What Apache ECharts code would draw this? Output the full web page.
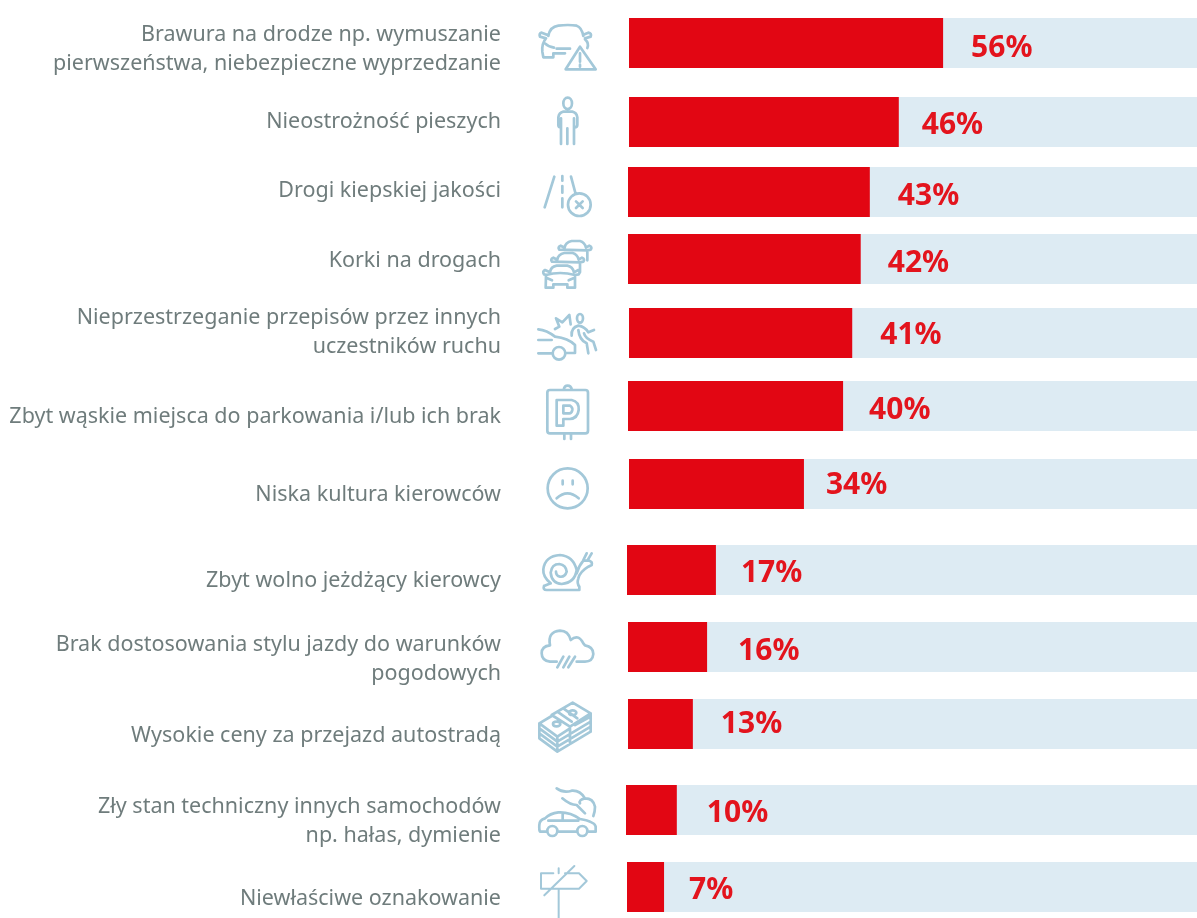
<!DOCTYPE html>
<html>
  <head>
    <meta charset="utf-8">
    <title>Przyczyny</title>
    <script src="https://cdn.jsdelivr.net/npm/echarts@6.0.0/dist/echarts.min.js"></script>
    <style>
      body { margin: 0px; background: #fff; }
      #chart { width: 1197px; height: 918px; }
    </style>
  </head>
  <body>
    <div id="chart"></div>
    <script type="text/javascript">
      const categories = [
        'Brawura na drodze np. wymuszanie\npierwszeństwa, niebezpieczne wyprzedzanie',
        'Nieostrożność pieszych',
        'Drogi kiepskiej jakości',
        'Korki na drogach',
        'Nieprzestrzeganie przepisów przez innych\nuczestników ruchu',
        'Zbyt wąskie miejsca do parkowania i/lub ich brak',
        'Niska kultura kierowców',
        'Zbyt wolno jeżdżący kierowcy',
        'Brak dostosowania stylu jazdy do warunków\npogodowych',
        'Wysokie ceny za przejazd autostradą',
        'Zły stan techniczny innych samochodów\nnp. hałas, dymienie',
        'Niewłaściwe oznakowanie'
      ]
      // printed percentages
      const valueLabels = [56, 46, 43, 42, 41, 40, 34, 17, 16, 13, 10, 7]
      // drawn bar length, % of the pale track (the picture's bars differ a bit from the printed number)
      const barLengths = [55.3, 47.5, 42.5, 40.9, 39.3, 37.8, 30.8, 15.6, 13.9, 11.4, 8.9, 6.5]

      // row layout, the rows in the picture are not evenly spaced
      const rowTop = [18, 97, 167, 234, 308, 381, 459, 545, 622, 699, 785, 862]
      const rowLeft = [629, 629, 628, 628, 629, 628, 629, 627, 628, 628, 626, 627]
      const nameShift = [6, 0, -1, 2, -1, 11, 11, 11, 12, 12, 11, 12]
      const valueShift = [5, 3, 4, 4, 2, 4, 1, 3, 4, 0, 3, 3]
      const valueGap = [28, 23, 28, 27, 28, 26, 22, 25, 31, 28, 30, 25]

      const RED = '#e20613'
      const TRACK = '#ddebf3'
      const ICON = '#a3c8d9'
      const TEXT = '#6f7c7c'
      const FONT = '"Noto Sans", sans-serif'

      // icon helpers, shapes are traced in the 3x zoom coords
      function ell(cx, cy, rx, ry = rx) {
        const k = 0.5523
        return `M${cx - rx},${cy} C${cx - rx},${cy - k * ry} ${cx - k * rx},${cy - ry} ${cx},${cy - ry} ` +
          `C${cx + k * rx},${cy - ry} ${cx + rx},${cy - k * ry} ${cx + rx},${cy} ` +
          `C${cx + rx},${cy + k * ry} ${cx + k * rx},${cy + ry} ${cx},${cy + ry} ` +
          `C${cx - k * rx},${cy + ry} ${cx - rx},${cy + k * ry} ${cx - rx},${cy} `
      }
      function place(d, ox, oy) {
        return d.replace(/(-?[\d.]+),(-?[\d.]+)/g, (m, x, y) => `${(ox + x / 3).toFixed(2)},${(oy + y / 3).toFixed(2)}`)
      }
      function stackedCar(dx, dy) {
        return `M${104 + dx},${38 + dy} Q${106 + dx},${22 + dy} ${125 + dx},${18 + dy} L${150 + dx},${18 + dy} Q${164 + dx},${22 + dy} ${168 + dx},${38 + dy} ` +
          `M${104 + dx},${38 + dy} L${92 + dx},${32 + dy} Q${82 + dx},${36 + dy} ${88 + dx},${44 + dy} L${172 + dx},${46 + dy} ` +
          `M${168 + dx},${38 + dy} L${178 + dx},${32 + dy} Q${188 + dx},${36 + dy} ${182 + dx},${44 + dy} L${172 + dx},${46 + dy} L${172 + dx},${76 + dy} `
      }

      const icons = [
        place('M55,78 Q60,50 85,47 Q115,43 140,47 Q155,52 160,78 M55,76 L35,68 Q26,70 30,80 L48,85 M160,74 L175,68 Q186,70 182,80 L165,85 ' +
          'M48,85 Q35,100 37,125 L40,142 L70,142 L70,130 L105,130 M45,100 Q55,110 72,113 M80,116 L120,116 M165,88 Q178,100 172,114 ' +
          'M150,110 L197,178 L107,178 Z M150,130 L150,155 M150,164 L150,170', 530, 10),
        place(ell(113, 280, 13, 17) + 'M85,345 L85,322 Q87,308 100,305 L127,305 Q140,308 142,322 L142,345 Q142,352 134,352 ' +
          'M85,345 Q85,352 92,352 M93,325 L93,402 M112,355 L112,402 M132,325 L132,402', 530, 10),
        place('M73,500 L44,592 M97,498 L97,512 M97,528 L97,548 M97,565 L97,592 M123,500 L137,552 ' + ell(148, 584, 34) +
          'M138,574 L158,594 M158,574 L138,594', 530, 10),
        place(stackedCar(0, 0) + stackedCar(-22, 36) + 'M60,112 Q62,95 80,92 L112,92 Q128,95 132,112 M60,112 L45,105 Q36,110 42,118 L50,120 ' +
          'M132,112 L145,105 Q152,110 146,118 L135,120 M48,120 L47,158 L70,158 L70,148 L112,148 L112,158 L135,158 L135,120 Q90,108 48,120 M52,130 L66,136 M130,130 L116,136', 530, 235),
        place('M25,283 Q50,285 75,305 Q115,310 135,330 L135,354 L108,354 ' + ell(87, 355, 19) + 'M66,355 L25,355 M25,315 L65,315 ' +
          'M75,282 L88,275 L78,250 L97,262 L118,240 L122,268 ' + ell(150, 250, 9, 13) +
          'M125,302 Q123,278 145,272 Q165,275 175,292 L192,285 M145,285 Q148,315 170,325 L175,355 M162,295 Q165,310 190,320 L198,345', 530, 235),
        place('M60,465 L166,465 Q174,465 174,473 L174,587 Q174,595 166,595 L60,595 Q52,595 52,587 L52,473 Q52,465 60,465 Z ' +
          'M101,465 Q103,452 113,452 Q123,452 126,465 M103,595 L103,612 M123,595 L123,612 ' +
          'M80,495 L125,495 Q148,500 146,525 Q143,550 120,552 L100,552 L100,572 L80,572 Z M100,512 L120,512 Q128,517 127,525 Q125,535 118,535 L100,535 Z', 530, 235),
        place(ell(113, 760, 60) + 'M98,737 L98,748 M128,737 L128,748 M80,790 Q112,760 146,790', 530, 235),
        place('M62,130 Q38,110 40,88 Q45,48 90,45 Q130,48 140,90 Q135,128 95,132 Q65,130 62,98 Q65,72 88,72 Q108,75 110,95 Q105,112 90,110 Q78,107 78,95 ' +
          'M42,138 Q38,150 50,150 L148,150 L148,140 Q140,130 145,115 Q150,95 175,80 L185,75 Q188,65 178,62 L160,62 Q145,80 140,100 M42,138 L62,130 M160,60 L170,40 M172,62 L185,40', 530, 540),
        place('M80,365 L60,365 Q35,362 35,340 Q35,318 60,316 Q52,275 90,272 Q115,272 122,300 Q145,280 160,310 L165,316 Q190,320 190,342 Q188,365 165,365 L140,365 ' +
          'M100,350 L82,382 M118,350 L100,382 M135,350 L115,382', 530, 540),
        place('M65,525 L128,488 L182,520 L120,560 Z M28,550 L65,528 M28,550 L82,590 L120,565 M135,555 L182,530 ' +
          'M28,565 L82,605 L182,545 M28,580 L82,620 L182,560 M28,550 L28,595 L82,635 L182,575 M182,520 L182,575 ' +
          'M82,515 L125,545 M100,505 L142,535 M120,560 L120,612 M82,590 L82,635' + ell(128, 518, 11, 7) + ell(80, 552, 11, 7), 530, 540),
        place('M28,165 Q28,150 45,145 Q60,130 85,127 Q120,125 150,147 Q195,155 197,170 L197,185 L175,185 ' + ell(157, 183, 15) + 'M140,185 L85,185 ' + ell(67, 183, 15) +
          'M50,185 L30,185 Q27,180 28,165 M55,152 L145,152 M98,132 L98,150 ' +
          'M80,55 Q100,70 125,62 Q150,60 165,85 Q190,85 195,110 Q195,125 190,138 M97,85 Q120,105 140,105 L165,130 M150,100 Q145,90 165,85', 530, 770),
        place('M70,310 L33,310 L33,356 L147,356 L170,333 L147,310 L105,310 M86,295 L86,310 M86,356 L86,444 M133,288 L43,376', 530, 770)
      ]

      const grids = []
      const xAxes = []
      const yAxes = []
      const series = []
      const rows = categories.length

      // one grid per row for the bar
      categories.forEach((name, i) => {
        grids.push({ left: rowLeft[i], top: rowTop[i], right: 0, height: 50, outerBoundsMode: 'none' })
        xAxes.push({ type: 'value', gridIndex: i, min: 0, max: 100, show: false })
        yAxes.push({ type: 'category', gridIndex: i, data: [name], show: false })
        series.push({
          type: 'bar',
          xAxisIndex: i,
          yAxisIndex: i,
          barWidth: '100%',
          silent: true,
          data: [barLengths[i]],
          itemStyle: { color: RED },
          showBackground: true,
          backgroundStyle: { color: TRACK },
          label: {
            show: true,
            position: 'right',
            distance: valueGap[i],
            offset: [0, valueShift[i]],
            formatter: () => valueLabels[i] + '%',
            color: '#e3141d',
            fontFamily: FONT,
            fontWeight: 'bold',
            fontSize: 30
          }
        })
      })

      // and a second one for the name, the text does not sit on the bar's centre line
      categories.forEach((name, i) => {
        grids.push({ left: 501, top: rowTop[i] + nameShift[i], width: 100, height: 50, outerBoundsMode: 'none' })
        xAxes.push({ type: 'value', gridIndex: rows + i, show: false })
        yAxes.push({
          type: 'category',
          gridIndex: rows + i,
          data: [name],
          axisLine: { show: false },
          axisTick: { show: false },
          axisLabel: {
            color: TEXT,
            fontFamily: FONT,
            fontSize: 21.5,
            lineHeight: 29,
            align: 'right',
            margin: 0
          }
        })
      })

      // pictograms next to the bars
      series.push({
        type: 'custom',
        coordinateSystem: 'none',
        silent: true,
        data: icons.map((d, i) => i),
        renderItem: (params) => ({
          type: 'path',
          shape: { pathData: icons[params.dataIndex] },
          style: {
            fill: 'none',
            stroke: ICON,
            lineWidth: params.dataIndex === 11 ? 2 : 2.7,
            lineCap: 'round',
            lineJoin: 'round'
          }
        })
      })

      const chart = echarts.init(document.getElementById('chart'))
      chart.setOption({
        animation: false,
        backgroundColor: '#fff',
        grid: grids,
        xAxis: xAxes,
        yAxis: yAxes,
        series: series
      })
    </script>
  </body>
</html>
